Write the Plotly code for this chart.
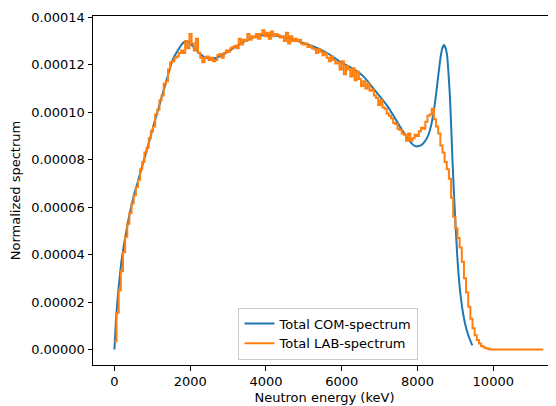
import numpy as np
import plotly.graph_objects as go

# ---- COM spectrum (smooth curve), energy in keV, value in units of 1e-5
com_energy = [0, 40, 95, 140, 184, 250, 317, 380, 449, 530, 624, 710, 800, 890, 976, 1060,
              1153, 1240, 1329, 1420, 1505, 1590, 1681, 1770, 1857, 1920, 1990,
              2121, 2250, 2385, 2520, 2649, 2780, 2913, 3090, 3265, 3480, 3706, 3930, 4146,
              4370, 4586, 4800, 5027, 5250, 5467, 5710, 5951, 6220, 6479, 6650,
              6831, 7010, 7184, 7360, 7536, 7680, 7800, 7890, 7977, 8090, 8196, 8290, 8373,
              8440, 8505, 8560, 8611, 8655, 8698, 8742, 8785, 8820, 8856, 8892,
              8927, 8958, 8988, 9020, 9050, 9085, 9120, 9180, 9252, 9340, 9446]
com_value = [0.0, 1.2, 2.35, 3.05, 3.7, 4.4, 5.0, 5.55, 6.05, 6.6, 7.1, 7.6, 8.1, 8.6, 9.1, 9.6,
             10.10, 10.6, 11.08, 11.6, 12.06, 12.38, 12.62, 12.85, 12.97, 12.98, 12.92,
             12.69, 12.47, 12.31, 12.25, 12.27, 12.35, 12.46, 12.65, 12.83, 13.02, 13.18, 13.24, 13.25,
             13.2, 13.12, 13.02, 12.90, 12.77, 12.62, 12.4, 12.13, 11.9, 11.64, 11.37,
             11.01, 10.66, 10.31, 9.87, 9.40, 9.05, 8.77, 8.62, 8.56, 8.6, 8.77, 9.05, 9.54,
             10.15, 10.94, 11.7, 12.34, 12.7, 12.83, 12.7, 12.34, 11.6, 10.66, 9.3,
             7.86, 6.75, 5.75, 4.8, 3.93, 3.15, 2.52, 1.75, 1.12, 0.6, 0.17]

# ---- LAB spectrum (histogram), bin width in keV, values in units of 1e-5
lab_bin_width = 56.6
lab_value = [
    0.35, 1.55, 2.5, 3.3, 4.1, 4.75, 5.3, 5.75, 6.15, 6.5,
    6.85, 7.15, 7.6, 7.9, 8.3, 8.5, 8.9, 9.2, 9.4, 9.9,
    10.1, 10.5, 10.7, 11.2, 11.3, 11.8, 12.1, 12.15, 12.3, 12.35,
    12.5, 12.6, 12.5, 13.0, 12.7, 13.3, 12.9, 12.6, 13.1, 12.5,
    12.3, 12.1, 12.3, 12.35, 12.2, 12.3, 12.15, 12.2, 12.4, 12.45,
    12.3, 12.5, 12.6, 12.55, 12.7, 12.75, 12.8, 12.7, 13.1, 12.85,
    13.05, 13.0, 13.3, 13.05, 13.2, 13.15, 13.3, 13.1, 13.3, 13.45,
    13.2, 13.35, 13.1, 13.4, 13.2, 13.3, 13.25, 13.15, 13.2, 13.0,
    13.35, 12.9, 13.2, 13.0, 13.1, 13.0, 13.05, 12.9, 12.85, 12.9,
    12.75, 12.8, 12.7, 12.65, 12.5, 12.65, 12.55, 12.4, 12.5, 12.3,
    12.15, 12.35, 12.2, 12.05, 12.1, 11.8, 12.15, 11.6, 11.95, 11.8,
    11.5, 11.85, 11.35, 11.7, 11.4, 11.1, 11.3, 11.0, 11.2, 10.9,
    10.95, 10.7, 10.6, 10.3, 10.5, 10.2, 10.15, 9.95, 9.85, 9.75,
    9.55, 9.5, 9.3, 9.25, 9.1, 9.05, 8.8, 9.1, 8.8, 8.9,
    9.05, 9.0, 9.2, 9.35, 9.3, 9.6, 9.85, 9.9, 10.15, 9.7,
    9.4, 9.1, 8.6, 8.3, 7.9, 7.6, 7.2, 6.4, 5.6, 5.1,
    4.7, 4.3, 3.7, 3.0, 2.4, 1.8, 1.3, 0.9, 0.6, 0.4,
    0.25, 0.15, 0.1, 0.05, 0.03, 0.0, 0.0, 0.0, 0.0, 0.0,
    0.0, 0.0, 0.0, 0.0, 0.0, 0.0, 0.0, 0.0, 0.0, 0.0,
    0.0, 0.0, 0.0, 0.0, 0.0, 0.0, 0.0, 0.0, 0.0, 0.0,
]
scale = 1e-5

y_ticks = [0.0, 0.00002, 0.00004, 0.00006, 0.00008, 0.00010, 0.00012, 0.00014]
x_ticks = [0, 2000, 4000, 6000, 8000, 10000]

lab_edges = np.arange(len(lab_value) + 1) * lab_bin_width
lab_y = list(np.array(lab_value) * scale) + [0.0]

fig = go.Figure()
fig.add_trace(go.Scatter(
    x=com_energy, y=np.array(com_value) * scale, mode="lines",
    line=dict(color="#1f77b4", width=2, shape="spline", smoothing=0.3),
    name="Total COM-spectrum"))
fig.add_trace(go.Scatter(
    x=lab_edges, y=lab_y, mode="lines",
    line=dict(color="#ff7f0e", width=2, shape="hv"),
    name="Total LAB-spectrum"))

# page body has an 8px margin: the figure is drawn 8px to the right and down
font = dict(family="DejaVu Sans", size=13, color="black")
fig.update_layout(
    width=548, height=398,
    margin=dict(l=85, r=0, t=8, b=40.5),
    paper_bgcolor="white", plot_bgcolor="white",
    font=font,
    showlegend=True,
    legend=dict(x=0.5086, y=0.0157, xanchor="center", yanchor="bottom",
                bgcolor="rgba(255,255,255,0.8)", bordercolor="#cccccc", borderwidth=1,
                font=font, tracegroupgap=0, itemwidth=30),
)
fig.update_xaxes(
    range=[-565, 11656], tickvals=x_ticks, ticktext=[str(t) for t in x_ticks],
    showgrid=False, zeroline=False, showline=True, linecolor="black", linewidth=1,
    mirror=True, ticks="outside", ticklen=4.5, tickcolor="black", automargin=False,
    title=dict(text="Neutron energy (keV)", font=font, standoff=4))
fig.update_yaxes(
    range=[-6.52e-6, 1.4054e-4], tickvals=y_ticks, ticktext=[f"{t:.5f}" for t in y_ticks],
    showgrid=False, zeroline=False, showline=True, linecolor="black", linewidth=1,
    mirror=False, ticks="outside", ticklen=4.5, tickcolor="black", automargin=False,
    title=dict(text="Normalized spectrum", font=font, standoff=9))

fig.write_html("out.html")
